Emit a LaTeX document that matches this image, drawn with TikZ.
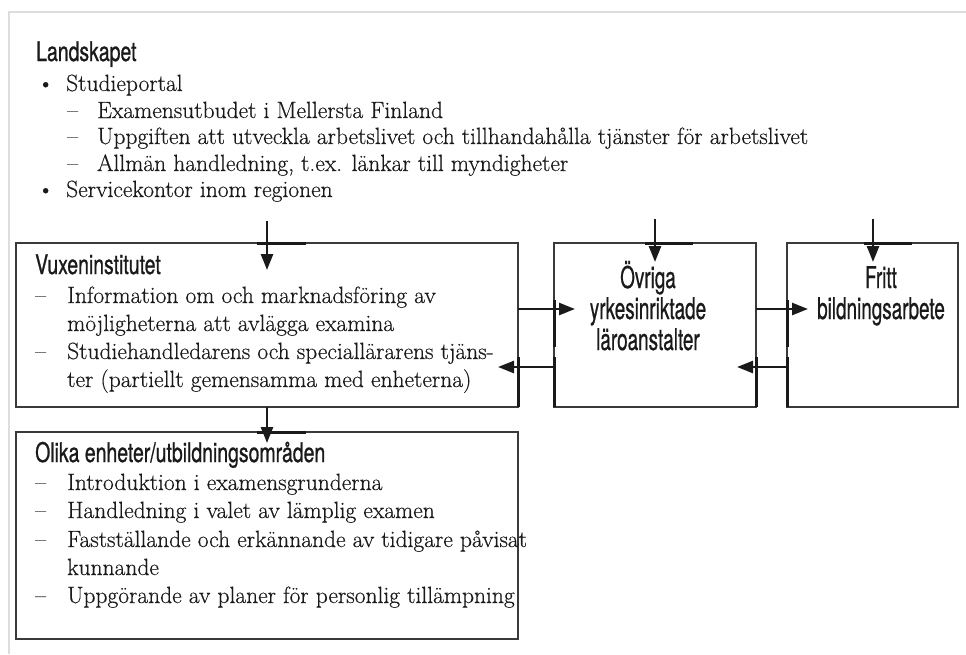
\documentclass[tikz,border=0pt]{standalone}
\usepackage{fontspec}
\setmainfont{lmroman17-regular.otf}[FakeBold=0.4]
\newfontfamily\headfont[FakeStretch=0.72,FakeBold=0.8]{TeX Gyre Heros}
\newfontfamily\unitfont[FakeStretch=0.63,FakeBold=0.6]{TeX Gyre Heros}
\usetikzlibrary{arrows.meta}
\definecolor{ink}{HTML}{1A1A1A}
\definecolor{edge}{HTML}{3A3A3A}
\definecolor{framegray}{HTML}{DDDDDD}

\begin{document}
\begin{tikzpicture}[x=1pt,y=-1pt,
  box/.style={draw=edge,line width=1.3pt,rectangle,inner sep=0pt,outer sep=0pt,anchor=north west},
  head/.style={anchor=base west,inner sep=0pt,font=\headfont\fontsize{27}{30}\selectfont,text=ink},
  body/.style={anchor=base west,inner sep=0pt,font=\fontsize{23.5}{28}\selectfont,text=ink},
  unit/.style={anchor=base,inner sep=0pt,font=\unitfont\fontsize{30}{32}\selectfont,text=ink},
  flow/.style={draw=ink,line width=2.5pt,-{Triangle[length=16pt,width=12pt]}},
  bar/.style={draw=ink,line width=3pt},
]
\useasboundingbox (0,0) rectangle (966,654);
\fill[white] (0,0) rectangle (966,654);

% page frame
\draw[framegray,line width=2pt] (9,654) -- (9,12) -- (966,12);

% --- regional overview ---
\node[head] (land) at (36,61) {Landskapet};
\node[body] (lb1) at (37,91) {•};
\node[body] (lt1) at (66,91) {Studieportal};
\node[body] (ld1) at (67,118) {–};
\node[body] (lt2) at (97,118) {Examensutbudet i Mellersta Finland};
\node[body] (ld2) at (67,144) {–};
\node[body] (lt3) at (97,144) {Uppgiften att utveckla arbetslivet och tillhandahålla tjänster för arbetslivet};
\node[body] (ld3) at (67,171) {–};
\node[body] (lt4) at (97,171) {Allmän handledning, t.ex. länkar till myndigheter};
\node[body] (lb2) at (37,197) {•};
\node[body] (lt5) at (66,197) {Servicekontor inom regionen};

% --- boxes ---
\node[box,minimum width=502pt,minimum height=164pt] (vux) at (16,243) {};
\node[box,minimum width=202pt,minimum height=164pt] (ovr) at (554,243) {};
\node[box,minimum width=171pt,minimum height=164pt] (fri) at (787,243) {};
\node[box,minimum width=502pt,minimum height=207pt] (oli) at (16,432) {};

% Vuxeninstitutet
\node[head] (vh) at (35,274) {Vuxeninstitutet};
\node[body] (vd1) at (35,303) {–};
\node[body] (vt1) at (67,303) {Information om och marknadsföring av};
\node[body] (vt2) at (67,331) {möjligheterna att avlägga examina};
\node[body] (vd2) at (35,359) {–};
\node[body] (vt3) at (67,359) {Studiehandledarens och speciallärarens tjäns-};
\node[body] (vt4) at (67,387) {ter (partiellt gemensamma med enheterna)};

% other vocational institutions
\node[unit] (ot1) at (648,288) {Övriga};
\node[unit] (ot2) at (648,319) {yrkesinriktade};
\node[unit] (ot3) at (648,350) {läroanstalter};

% liberal adult education
\node[unit] (ft1) at (881,288) {Fritt};
\node[unit] (ft2) at (881,319) {bildningsarbete};

% units / fields of education
\node[head] (oh) at (35,462) {Olika enheter/utbildningsområden};
\node[body] (od1) at (35,490) {–};
\node[body] (ot4) at (67,490) {Introduktion i examensgrunderna};
\node[body] (od2) at (35,518) {–};
\node[body] (ot5) at (67,518) {Handledning i valet av lämplig examen};
\node[body] (od3) at (35,547) {–};
\node[body] (ot6) at (67,547) {Fastställande och erkännande av tidigare påvisat};
\node[body] (ot7) at (67,575) {kunnande};
\node[body] (od4) at (35,603) {–};
\node[body] (ot8) at (67,603) {Uppgörande av planer för personlig tillämpning};

% --- connector end points ---
\coordinate (inV)  at (267,221);
\coordinate (tipV) at (267,270);
\coordinate (inO)  at (655,219);
\coordinate (tipO) at (655,262);
\coordinate (inF)  at (873,219);
\coordinate (tipF) at (873,262);
\coordinate (fromV) at (267,407);
\coordinate (tipU)  at (267,443);
\coordinate (vr1) at (518,309);
\coordinate (tr1) at (575,309);
\coordinate (or1) at (756,309);
\coordinate (tr2) at (808,309);
\coordinate (ol1) at (554,367);
\coordinate (tl1) at (498,367);
\coordinate (fl1) at (787,367);
\coordinate (tl2) at (737,367);

% entry bars
\draw[bar] (257,243) -- (306,243);
\draw[bar] (645,243) -- (693,243);
\draw[bar] (864,243) -- (912,243);
\draw[bar] (257,432) -- (306,432);
\draw[bar] (554,300) -- (554,347);
\draw[bar] (554,357) -- (554,407);
\draw[bar] (518,357) -- (518,407);
\draw[bar] (787,300) -- (787,347);
\draw[bar] (787,357) -- (787,407);
\draw[bar] (756,357) -- (756,407);

% connectors
\draw[flow] (inV) -- (tipV);
\draw[flow] (inO) -- (tipO);
\draw[flow] (inF) -- (tipF);
\draw[flow] (fromV) -- (tipU);
\draw[flow] (vr1) -- (tr1);
\draw[flow] (or1) -- (tr2);
\draw[flow] (ol1) -- (tl1);
\draw[flow] (fl1) -- (tl2);
\end{tikzpicture}
\end{document}
